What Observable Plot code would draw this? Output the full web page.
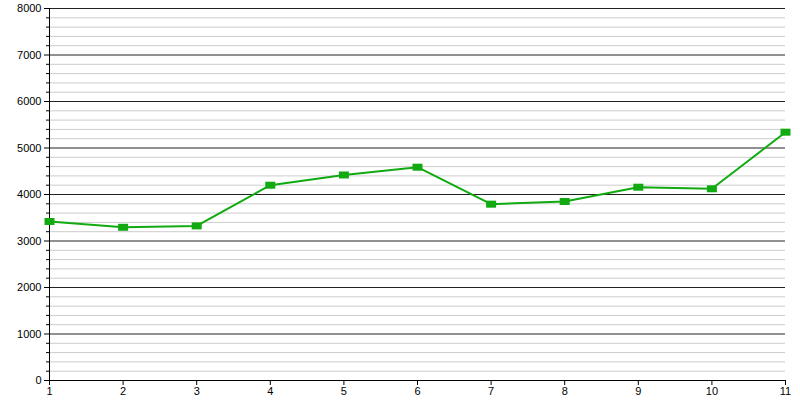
<!DOCTYPE html>
<html><head><meta charset="utf-8">
<script src="https://cdn.jsdelivr.net/npm/d3@7"></script>
<script src="https://cdn.jsdelivr.net/npm/@observablehq/plot@0.6"></script>
<style>body{margin:0;background:#fff}</style>
</head><body><div id="chart"></div>
<script>
const xs = [1,2,3,4,5,6,7,8,9,10,11];
const values = [3420,3295,3325,4200,4420,4587,3792,3850,4157,4123,5340];
const majorTicks = [0,1000,2000,3000,4000,5000,6000,7000,8000];
const minorTicks = d3.range(200, 8000, 200).filter(v => v % 1000 !== 0);

const data = xs.map((x, i) => ({x, y: values[i]}));
const rectSymbol = {draw(ctx) { ctx.rect(-5, -3.5, 10, 7); }};
const green = "#11aa11";

const chart = Plot.plot({
  width: 800, height: 400,
  marginLeft: 49, marginRight: 15, marginTop: 8, marginBottom: 20,
  style: {fontFamily: "Liberation Sans, Arial, sans-serif", fontSize: "11px", background: "#fff", color: "#000"},
  x: {domain: [1, 11], axis: null, label: null},
  y: {domain: [0, 8000], axis: null, label: null},
  marks: [
    Plot.ruleY(minorTicks, {stroke: "#cccccc", strokeWidth: 1}),
    Plot.ruleY(majorTicks, {stroke: "#222222", strokeWidth: 1}),
    Plot.axisY({ticks: minorTicks, tickSize: 3, tickFormat: () => "", stroke: "#000", label: null}),
    Plot.axisY({ticks: majorTicks, tickSize: 5, tickPadding: 3, tickFormat: d3.format("d"), stroke: "#000", fill: "#000", label: null}),
    Plot.axisX({ticks: xs, tickSize: 5, tickPadding: 2, tickFormat: d3.format("d"), stroke: "#000", fill: "#000", label: null}),
    Plot.ruleX([1], {stroke: "#000", y1: 0, y2: 8000}),
    Plot.ruleY([0], {stroke: "#000"}),
    Plot.line(data, {x: "x", y: "y", stroke: green, strokeWidth: 2}),
    Plot.dot(data, {x: "x", y: "y", symbol: rectSymbol, fill: green, stroke: "none", r: 4})
  ]
});
document.getElementById("chart").appendChild(chart);
</script>
</body></html>
